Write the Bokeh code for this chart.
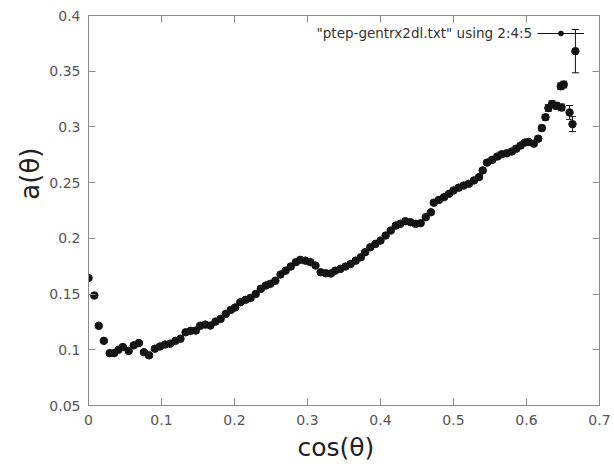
import numpy as np
from bokeh.plotting import figure
from bokeh.models import (Range1d, FixedTicker, LinearAxis, Label, Legend, LegendItem,
                          CustomJSTickFormatter, ColumnDataSource, Title)
from bokeh.core.properties import value
from bokeh.embed import file_html
from bokeh.resources import INLINE

# ---- data ----
cos_theta = [
    0.000, 0.008, 0.014, 0.021, 0.029, 0.035, 0.041, 0.047, 0.055, 0.062,
    0.069, 0.076, 0.083, 0.091, 0.098, 0.105, 0.112, 0.119, 0.126, 0.133,
    0.140, 0.147, 0.153, 0.160, 0.167, 0.174, 0.181, 0.188, 0.195, 0.201,
    0.208, 0.215, 0.222, 0.229, 0.236, 0.243, 0.249, 0.256, 0.263, 0.270,
    0.277, 0.284, 0.290, 0.297, 0.304, 0.311, 0.318, 0.325, 0.332, 0.338,
    0.345, 0.352, 0.359, 0.366, 0.373, 0.379, 0.386, 0.393, 0.400, 0.407,
    0.414, 0.421, 0.427, 0.434, 0.441, 0.448, 0.455, 0.462, 0.469, 0.473,
    0.480, 0.487, 0.494, 0.500, 0.507, 0.514, 0.521, 0.528, 0.535, 0.540,
    0.546, 0.553, 0.560, 0.566, 0.573, 0.580, 0.586, 0.592, 0.598, 0.603,
    0.610, 0.616, 0.621, 0.626, 0.630, 0.635, 0.641, 0.648, 0.647, 0.651,
    0.659, 0.663, 0.667,
]
a_theta = [
    0.1645, 0.1487, 0.1215, 0.1080, 0.0970, 0.0970, 0.1000, 0.1025, 0.0990, 0.1040,
    0.1060, 0.0978, 0.0950, 0.1010, 0.1030, 0.1047, 0.1055, 0.1080, 0.1100, 0.1157,
    0.1170, 0.1172, 0.1215, 0.1226, 0.1217, 0.1253, 0.1277, 0.1322, 0.1358, 0.1380,
    0.1427, 0.1448, 0.1466, 0.1500, 0.1547, 0.1577, 0.1592, 0.1620, 0.1675, 0.1710,
    0.1747, 0.1786, 0.1807, 0.1800, 0.1786, 0.1756, 0.1696, 0.1687, 0.1684, 0.1710,
    0.1726, 0.1747, 0.1770, 0.1800, 0.1830, 0.1876, 0.1920, 0.1950, 0.1980, 0.2025,
    0.2070, 0.2115, 0.2130, 0.2154, 0.2145, 0.2130, 0.2136, 0.2190, 0.2234, 0.2320,
    0.2345, 0.2370, 0.2400, 0.2430, 0.2455, 0.2474, 0.2490, 0.2520, 0.2550, 0.2610,
    0.2680, 0.2705, 0.2734, 0.2755, 0.2764, 0.2780, 0.2805, 0.2833, 0.2860, 0.2865,
    0.2850, 0.2895, 0.2990, 0.3087, 0.3170, 0.3205, 0.3190, 0.3175, 0.3365, 0.3380,
    0.3130, 0.3025, 0.3680,
]
a_err = [
    0.0015, 0.0015, 0.0015, 0.0015, 0.0015, 0.0015, 0.0015, 0.0015, 0.0015, 0.0015,
    0.0015, 0.0015, 0.0015, 0.0015, 0.0015, 0.0015, 0.0015, 0.0015, 0.0015, 0.0015,
    0.0015, 0.0015, 0.0015, 0.0015, 0.0015, 0.0015, 0.0015, 0.0015, 0.0015, 0.0015,
    0.0015, 0.0015, 0.0015, 0.0015, 0.0015, 0.0015, 0.0015, 0.0015, 0.0015, 0.0015,
    0.0015, 0.0015, 0.0015, 0.0015, 0.0015, 0.0015, 0.0015, 0.0015, 0.0015, 0.0015,
    0.0015, 0.0015, 0.0015, 0.0015, 0.0015, 0.0015, 0.0015, 0.0015, 0.0015, 0.0015,
    0.0015, 0.0015, 0.0015, 0.0015, 0.0015, 0.0015, 0.0015, 0.0015, 0.0015, 0.0015,
    0.0015, 0.0015, 0.0015, 0.0015, 0.0015, 0.0015, 0.0015, 0.0015, 0.0015, 0.0015,
    0.0020, 0.0020, 0.0020, 0.0020, 0.0020, 0.0020, 0.0020, 0.0020, 0.0020, 0.0020,
    0.0020, 0.0020, 0.0025, 0.0025, 0.0030, 0.0030, 0.0030, 0.0030, 0.0030, 0.0030,
    0.0062, 0.0067, 0.0194,
]

x_ticks = [0, 0.1, 0.2, 0.3, 0.4, 0.5, 0.6, 0.7]
x_tick_labels = ["0", "0.1", "0.2", "0.3", "0.4", "0.5", "0.6", "0.7"]
y_ticks = [0.05, 0.1, 0.15, 0.2, 0.25, 0.3, 0.35, 0.4]
y_tick_labels = ["0.05", "0.1", "0.15", "0.2", "0.25", "0.3", "0.35", "0.4"]

series_label = '"ptep-gentrx2dl.txt" using 2:4:5'
x_title = "cos(θ)"
y_title = "a(θ)"

# ---- styling ----
FONT = "DejaVu Sans"
AXIS_COLOR = "#8a8a8a"
TEXT_COLOR = "#555555"
TITLE_COLOR = "#222222"
INK = "#141414"

x = np.array(cos_theta)
y = np.array(a_theta)
e = np.array(a_err)
src = ColumnDataSource(dict(x=x, y=y, lo=y - e, hi=y + e))

p = figure(width=612, height=464, output_backend="svg", toolbar_location=None,
           x_range=Range1d(0, 0.7), y_range=Range1d(0.05, 0.4),
           x_axis_location=None, y_axis_location=None,
           min_border_left=88, min_border_right=13, min_border_top=15, min_border_bottom=59)
p.grid.visible = False
p.outline_line_color = AXIS_COLOR
p.background_fill_color = "white"
p.border_fill_color = "white"


def make_axis(cls_ticks, labels, show_labels):
    ax = LinearAxis(ticker=FixedTicker(ticks=cls_ticks))
    ax.axis_line_color = AXIS_COLOR
    ax.major_tick_line_color = AXIS_COLOR
    ax.major_tick_in = 7
    ax.major_tick_out = 0
    ax.minor_tick_line_color = None
    if show_labels:
        ax.major_label_overrides = {t: l for t, l in zip(cls_ticks, labels)}
        ax.major_label_text_font = FONT
        ax.major_label_text_font_size = "14px"
        ax.major_label_text_color = TEXT_COLOR
    else:
        ax.formatter = CustomJSTickFormatter(code="return ''")
        ax.major_label_text_font_size = "0px"
        ax.major_label_standoff = 0
    return ax


bottom = make_axis(x_ticks, x_tick_labels, True)
bottom.major_label_standoff = 9
left = make_axis(y_ticks, y_tick_labels, True)
left.major_label_standoff = 8
top = make_axis(x_ticks, x_tick_labels, False)
right = make_axis(y_ticks, y_tick_labels, False)
p.add_layout(bottom, "below")
p.add_layout(left, "left")
p.add_layout(top, "above")
p.add_layout(right, "right")

xtitle = Title(text=x_title, align="left", offset=209, standoff=6,
               text_font=FONT, text_font_size="25px", text_font_style="normal",
               text_color=TITLE_COLOR)
p.add_layout(xtitle, "below")
ytitle = Title(text=y_title, align="right", offset=132, standoff=3,
               text_font=FONT, text_font_size="26px", text_font_style="normal",
               text_color=TITLE_COLOR)
p.add_layout(ytitle, "left")

# error bars with caps, then points
bars = p.segment(x0="x", y0="lo", x1="x", y1="hi", source=src, line_color=INK, line_width=1)
p.scatter(x="x", y="lo", source=src, marker="dash", size=7, line_color=INK, line_width=1)
p.scatter(x="x", y="hi", source=src, marker="dash", size=7, line_color=INK, line_width=1)
dots = p.scatter(x="x", y="y", source=src, marker="circle", size=7.5,
                 fill_color=INK, line_color=INK)

# key: text on the left, sample on the right (gnuplot style)
key_text = Label(x=0.6078, y=0.3841, text=series_label, text_align="right",
                 text_baseline="middle", text_font=FONT, text_font_size="13.5px",
                 text_color="#333333")
p.add_layout(key_text)
legend = Legend(items=[LegendItem(label=value(""), renderers=[bars, dots])],
                location=(449, 366), orientation="vertical",
                glyph_width=47, glyph_height=12, label_width=0, label_height=12,
                label_standoff=0, padding=0, spacing=0, margin=0,
                border_line_alpha=0, background_fill_alpha=0)
p.add_layout(legend)

open("out.html", "w").write(file_html(p, INLINE))
